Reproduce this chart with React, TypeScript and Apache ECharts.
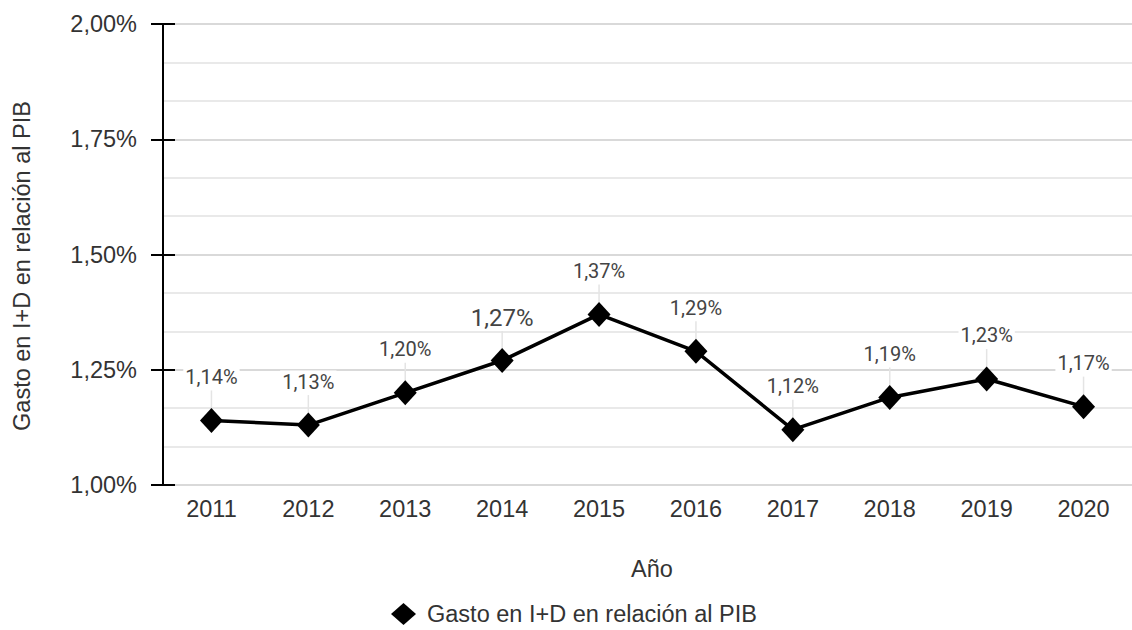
import React, { useEffect, useRef } from "react";
import * as echarts from "echarts";

const years = ["2011", "2012", "2013", "2014", "2015", "2016", "2017", "2018", "2019", "2020"];
const values = [1.14, 1.13, 1.2, 1.27, 1.37, 1.29, 1.12, 1.19, 1.23, 1.17];
const seriesName = "Gasto en I+D en relación al PIB";
const yAxisTitle = "Gasto en I+D en relación al PIB";
const xAxisTitle = "Año";
const highlightIndex = 3;

const fmt = (v: number) => v.toFixed(2).replace(".", ",") + "%";

export default function App() {
  const ref = useRef<HTMLDivElement>(null);
  useEffect(() => {
    if (!ref.current) return;
    const chart = echarts.init(ref.current, undefined, { renderer: "svg" });
    const axisFont = "'Liberation Sans', Arial, sans-serif";
    const option: any = {
      animation: false,
      backgroundColor: "#ffffff",
      grid: { left: 163, top: 24, width: 981, height: 461 },
      legend: {
        data: [seriesName],
        left: 386,
        top: 597,
        icon: "diamond",
        itemWidth: 25,
        itemHeight: 22,
        textStyle: {
          fontFamily: axisFont,
          fontSize: 23.5,
          lineHeight: 22,
          color: "#333",
          padding: [0, 0, 0, 6],
        },
      },
      graphic: [
        {
          type: "text",
          x: 22,
          y: 266,
          rotation: Math.PI / 2,
          style: {
            text: yAxisTitle,
            fontFamily: axisFont,
            fontSize: 23.5,
            fill: "#333",
            align: "center",
            verticalAlign: "middle",
          },
        },
        {
          type: "text",
          x: 652,
          y: 569,
          style: {
            text: xAxisTitle,
            fontFamily: axisFont,
            fontSize: 23.5,
            fill: "#333",
            align: "center",
            verticalAlign: "middle",
          },
        },
      ],
      xAxis: {
        type: "category",
        data: years,
        boundaryGap: true,
        axisLine: { show: false },
        axisTick: { show: false },
        axisLabel: { fontFamily: axisFont, fontSize: 23.5, color: "#333", margin: 12 },
      },
      yAxis: [
        {
          type: "value",
          min: 1,
          max: 2,
          interval: 0.25,
          position: "left",
          axisLine: { show: true, lineStyle: { color: "#000", width: 2 } },
          axisTick: { show: true, inside: false, length: 12, lineStyle: { color: "#000", width: 2 } },
          axisLabel: {
            fontFamily: axisFont,
            fontSize: 23.5,
            color: "#333",
            margin: 26,
            formatter: (v: number) => fmt(v),
          },
          splitLine: { show: true, lineStyle: { color: "#cccccc", width: 1.5 } },
          minorTick: { show: false, splitNumber: 3 },
          minorSplitLine: { show: true, lineStyle: { color: "#e2e2e2", width: 1.5 } },
        },
        {
          type: "value",
          min: 1,
          max: 2,
          interval: 0.25,
          position: "left",
          offset: 0,
          axisLine: { show: false },
          axisTick: { show: true, inside: true, length: 12, lineStyle: { color: "#000", width: 2 } },
          axisLabel: { show: false },
          splitLine: { show: false },
        },
      ],
      series: [
        {
          type: "custom",
          name: "leaders",
          silent: true,
          z: 1,
          data: values.map((v, i) => [i, v]),
          renderItem: (params: any, api: any) => {
            const p = api.coord([api.value(0), api.value(1)]);
            return {
              type: "line",
              shape: { x1: p[0], y1: p[1] - 11, x2: p[0], y2: p[1] - 30 },
              style: { stroke: "#e4e4e4", lineWidth: 1.5 },
            };
          },
        },
        {
          type: "line",
          name: seriesName,
          z: 3,
          data: values.map((v, i) =>
            i === highlightIndex
              ? { value: v, label: { fontSize: 24, distance: 17 } }
              : v
          ),
          symbol: "diamond",
          symbolSize: [23, 25],
          itemStyle: { color: "#000" },
          lineStyle: { color: "#000", width: 3.5 },
          label: {
            show: true,
            position: "top",
            distance: 20,
            fontFamily: "Roboto, sans-serif",
            fontSize: 20,
            color: "#444",
            backgroundColor: "#fff",
            padding: [1, 2],
            formatter: (p: any) => fmt(p.value as number),
          },
        },
      ],
    };
    chart.setOption(option);
    return () => chart.dispose();
  }, []);
  return (
    <div
      ref={ref}
      style={{ position: "fixed", left: 0, top: 0, width: 1132, height: 630, background: "#fff" }}
    />
  );
}
